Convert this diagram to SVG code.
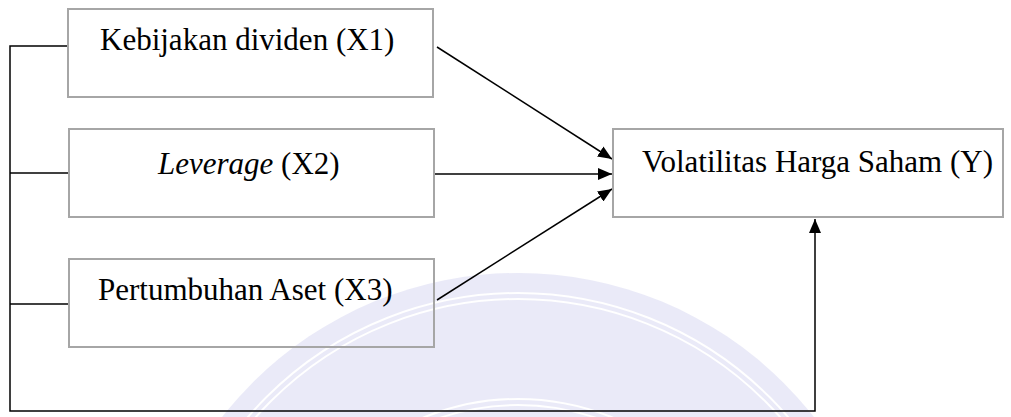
<svg xmlns="http://www.w3.org/2000/svg" width="1011" height="417" viewBox="0 0 1011 417">
<style>
.box{fill:none;stroke:#a6a6a6;stroke-width:2}
.lbl{font-size:31px;fill:#000}
.con{fill:none;stroke:#000;stroke-width:1.5}
</style>
<defs>
<marker id="ah" viewBox="0 0 14 12" refX="14" refY="6" markerWidth="14" markerHeight="12" markerUnits="userSpaceOnUse" orient="auto">
<path d="M0,0 L14,6 L0,12 Z" fill="#000"/>
</marker>
</defs>
<rect width="1011" height="417" fill="#fff"/>
<g id="watermark" opacity="0.5">
<circle cx="518" cy="649" r="376" fill="#d6d6f2"/>
<circle cx="518" cy="649" r="356" fill="none" stroke="#fff" stroke-width="2"/>
<circle cx="518" cy="649" r="350" fill="none" stroke="#fff" stroke-width="2"/>
<circle cx="518" cy="649" r="250" fill="none" stroke="#fff" stroke-width="2"/>
<circle cx="518" cy="649" r="244" fill="none" stroke="#fff" stroke-width="2"/>
</g>
<g id="connectors">
<polyline class="con" points="68,46 10,46 10,411 815,411 815,219" stroke="#333" marker-end="url(#ah)"/>
<line class="con" x1="10" y1="173" x2="68" y2="173"/>
<line class="con" x1="10" y1="304" x2="68" y2="304"/>
<line class="con" x1="437" y1="47" x2="612" y2="159" marker-end="url(#ah)"/>
<line class="con" x1="434" y1="174" x2="612" y2="174" marker-end="url(#ah)"/>
<line class="con" x1="437" y1="300" x2="612" y2="189" marker-end="url(#ah)"/>
</g>
<g id="x1" font-family="'Liberation Serif', 'Times New Roman', serif">
<rect class="box" x="68" y="9" width="365" height="88"/>
<text class="lbl" x="100" y="50">Kebijakan dividen (X1)</text>
</g>
<g id="x2" font-family="'Liberation Serif', 'Times New Roman', serif">
<rect class="box" x="69" y="129" width="365" height="88"/>
<text class="lbl" x="158" y="174"><tspan font-style="italic">Leverage</tspan> (X2)</text>
</g>
<g id="x3" font-family="'Liberation Serif', 'Times New Roman', serif">
<rect class="box" x="69" y="259" width="365" height="88"/>
<text class="lbl" x="98" y="300">Pertumbuhan Aset (X3)</text>
</g>
<g id="y" font-family="'Liberation Serif', 'Times New Roman', serif">
<rect class="box" x="613" y="129" width="390" height="88"/>
<text class="lbl" x="642" y="172">Volatilitas Harga Saham (Y)</text>
</g>
</svg>
